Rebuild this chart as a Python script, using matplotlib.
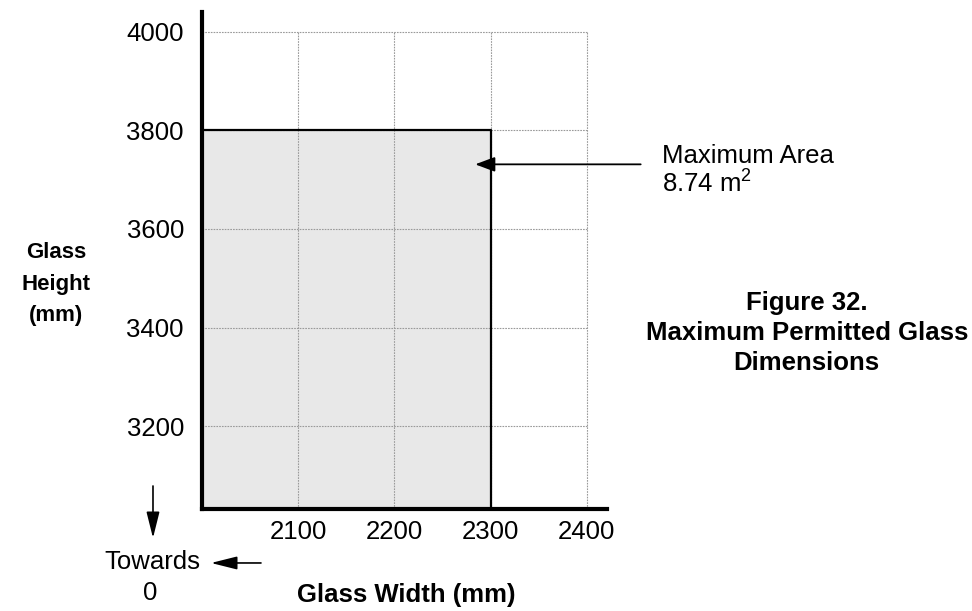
import matplotlib
matplotlib.use("Agg")
import matplotlib.pyplot as plt
from matplotlib.patches import Rectangle

plt.rcParams["font.family"] = ["Liberation Sans", "DejaVu Sans"]
plt.rcParams["mathtext.fontset"] = "custom"
plt.rcParams["mathtext.rm"] = "Liberation Sans"

# values
x_ticks = [2100, 2200, 2300, 2400]
y_ticks = [3200, 3400, 3600, 3800, 4000]
grid_x = [2100, 2200, 2300, 2400]
grid_y = [3200, 3400, 3600, 3800, 4000]
x_origin = 2000
max_width = 2300
max_height = 3800
area_lines = ["Maximum Area", "8.74 m$^2$"]
caption_lines = ["Figure 32.", "Maximum Permitted Glass", "Dimensions"]
ylabel_lines = ["Glass", "Height", "(mm)"]
arrow_point = (2284, 3731)
arrow_tail = (2456, 3731)

FS = 18.5

fig = plt.figure(figsize=(9.72, 6.11), dpi=100)
ax = fig.add_axes([0.2078, 0.1669, 0.4167, 0.8135])
ax.set_xlim(2000, 2421)
ax.set_ylim(3032, 4040)

# grid (only inside the 2000-2400 / ..-4000 box)
ax.vlines(grid_x, 3032, 4000, colors="#9a9a9a", linestyles=(0, (1.5, 1.0)), linewidth=0.8, zorder=1)
ax.hlines(grid_y, x_origin, 2400, colors="#9a9a9a", linestyles=(0, (1.5, 1.0)), linewidth=0.8, zorder=1)

# maximum glass area rectangle
ax.add_patch(Rectangle((x_origin, 3032), max_width - x_origin, max_height - 3032,
                       facecolor="#e8e8e8", edgecolor="none", zorder=0))
ax.plot([x_origin, max_width, max_width], [max_height, max_height, 3032],
        color="black", linewidth=1.6, zorder=3, solid_capstyle="butt")

for side in ["top", "right"]:
    ax.spines[side].set_visible(False)
for side in ["left", "bottom"]:
    ax.spines[side].set_linewidth(3)
    ax.spines[side].set_zorder(4)

ax.set_xticks(x_ticks)
ax.set_yticks(y_ticks)
ax.tick_params(axis="both", length=0, labelsize=FS)
ax.tick_params(axis="x", pad=8)
ax.tick_params(axis="y", pad=13)

# annotation arrow
ax.annotate("", xy=arrow_point, xytext=arrow_tail,
            arrowprops=dict(arrowstyle="-|>,head_length=1.2,head_width=0.45",
                            color="black", lw=1.3, shrinkA=0, shrinkB=0),
            annotation_clip=False)
for line, yb in zip(area_lines, [0.7332, 0.6858]):
    fig.text(0.681, yb, line, fontsize=FS, ha="left", va="baseline")

# axis labels
fig.text(0.418, 0.0147, "Glass Width (mm)", fontsize=FS, fontweight="bold",
         ha="center", va="baseline")
for line, yb in zip(ylabel_lines, [0.5777, 0.5254, 0.4747]):
    fig.text(0.0576, yb, line, fontsize=16, fontweight="bold",
             ha="center", va="baseline")

# "towards 0" markers
arrow_kw = dict(arrowstyle="-|>,head_length=1.6,head_width=0.4", color="black",
                lw=1.2, shrinkA=0, shrinkB=0)
ax.annotate("", xy=(0.1574, 0.1195), xytext=(0.1574, 0.2046),
            xycoords="figure fraction", textcoords="figure fraction",
            arrowprops=arrow_kw, annotation_clip=False)
ax.annotate("", xy=(0.2171, 0.0786), xytext=(0.2685, 0.0786),
            xycoords="figure fraction", textcoords="figure fraction",
            arrowprops=arrow_kw, annotation_clip=False)
fig.text(0.2058, 0.0687, "Towards", fontsize=FS, ha="right", va="baseline")
fig.text(0.1543, 0.018, "0", fontsize=FS, ha="center", va="baseline")

# caption
for line, yb in zip(caption_lines, [0.4926, 0.4435, 0.3944]):
    fig.text(0.830, yb, line, fontsize=FS, fontweight="bold",
             ha="center", va="baseline")

fig.savefig("out.png", dpi=100)
